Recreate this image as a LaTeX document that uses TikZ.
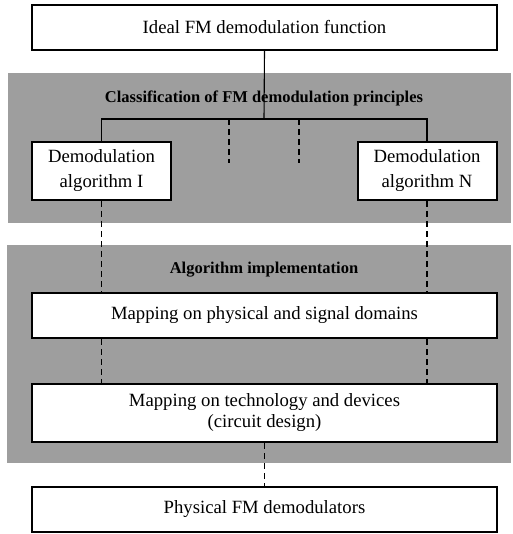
\documentclass[tikz,border=0pt]{standalone}
\usepackage{fontspec}
\setmainfont{Liberation Serif}
\usepackage{tikz}
\usetikzlibrary{positioning}
\tikzstyle{block} = [draw, line width=2pt, fill=white, minimum width=465pt, minimum height=45pt, inner sep=0pt, align=center, font=\fontsize{18.7}{23}\selectfont]
\tikzstyle{algbox} = [block, minimum width=139pt, minimum height=58pt, font=\fontsize{18.7}{25}\selectfont]
\tikzstyle{head} = [font=\fontsize{16.5}{20}\selectfont\bfseries]
\tikzstyle{band} = [fill=black!38]
\tikzstyle{link} = [draw, line width=1.1pt]
\tikzstyle{dashlink} = [draw, line width=1.1pt, dash pattern=on 6pt off 4pt]

\begin{document}
\begin{tikzpicture}[x=1pt,y=-1pt]
    \useasboundingbox (0,0) rectangle (512,534);
    % shaded stages
    \fill[band] (8,73) rectangle (511,223);
    \fill[band] (7,245) rectangle (511,463);

    \node[block] (ideal) at (264.5,27.5) {Ideal FM demodulation function};
    \node[head] (classif) at (264,98) {Classification of FM demodulation principles};
    \node[algbox] (algI) at (101.5,171) {Demodulation\\algorithm I};
    \node[algbox] (algN) at (427,171) {Demodulation\\algorithm N};
    \node[head] (impl) at (264,270) {Algorithm implementation};
    \node[block] (mapsig) at (264.5,315.5) {Mapping on physical and signal domains};
    \node[block, minimum height=58pt, font=\fontsize{18.7}{21}\selectfont] (maptech) at (264.5,413) {Mapping on technology and devices\\(circuit design)};
    \node[block] (phys) at (264.5,509.5) {Physical FM demodulators};

    \coordinate (fork) at (264,119);
    \coordinate (midA) at (229,163);
    \coordinate (midB) at (299,163);

    \draw[link] (ideal.south) -- (fork);
    \draw[link] (algI.north) |- (fork) -| (algN.north);
    \draw[dashlink] (midA |- fork) -- (midA);
    \draw[dashlink] (midB |- fork) -- (midB);
    % algorithms down to the implementation
    \draw[dashlink] (algI.south) -- (algI.south |- mapsig.north);
    \draw[dashlink] (algN.south) -- (algN.south |- mapsig.north);
    \draw[dashlink] (algI.south |- mapsig.south) -- (algI.south |- maptech.north);
    \draw[dashlink] (algN.south |- mapsig.south) -- (algN.south |- maptech.north);
    \draw[dashlink] (maptech.south) -- (phys.north);
\end{tikzpicture}
\end{document}
